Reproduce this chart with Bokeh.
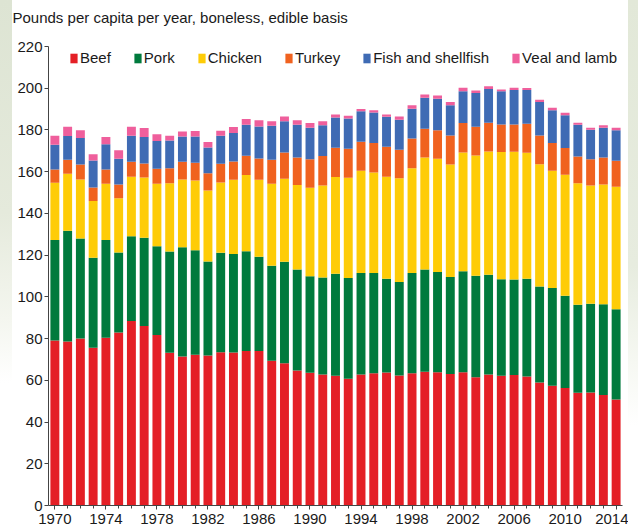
from bokeh.plotting import figure
from bokeh.models import ColumnDataSource, FixedTicker, Legend, LegendItem, Div, Title
from bokeh.layouts import row
from bokeh.embed import file_html
from bokeh.resources import INLINE

years = list(range(1970, 2015))
beef = [79.1, 78.6, 80.1, 75.6, 80.4, 82.9, 88.4, 86.0, 81.7, 73.2, 71.4, 72.2, 71.9, 73.5, 73.3,
        74.0, 74.0, 69.4, 68.2, 64.7, 63.6, 62.8, 62.2, 60.7, 62.8, 63.4, 63.8, 62.3, 63.4, 64.1,
        63.9, 63.0, 63.9, 61.5, 62.8, 62.2, 62.5, 61.8, 59.0, 57.4, 56.3, 54.0, 54.2, 53.0, 50.8]
pork = [48.1, 53.1, 47.9, 43.1, 46.8, 38.4, 40.7, 42.3, 42.6, 48.6, 52.4, 50.2, 45.1, 47.6, 47.3,
        47.9, 45.2, 45.5, 48.6, 48.4, 46.3, 46.5, 48.9, 48.3, 48.6, 48.0, 44.9, 44.8, 48.0, 49.0,
        48.0, 46.5, 48.4, 48.6, 47.8, 46.3, 45.8, 46.9, 46.0, 46.8, 44.2, 42.2, 42.5, 43.5, 43.3]
chicken = [27.5, 27.3, 28.3, 27.2, 27.0, 26.0, 28.5, 28.9, 29.9, 32.6, 32.5, 33.4, 34.0, 33.7, 35.5,
           36.5, 36.9, 39.3, 39.8, 40.5, 42.4, 44.1, 46.3, 48.1, 49.0, 48.2, 48.9, 49.8, 50.2, 53.7,
           54.3, 54.0, 56.9, 57.7, 59.1, 60.9, 61.2, 60.4, 58.6, 56.2, 58.0, 58.3, 56.7, 57.4, 58.7]
turkey = [6.4, 6.7, 7.2, 6.5, 6.9, 6.6, 7.2, 6.7, 7.2, 7.3, 8.5, 8.5, 8.2, 9.0, 8.8,
          9.2, 10.2, 11.5, 12.6, 13.2, 13.7, 14.1, 14.1, 13.9, 13.9, 14.1, 14.3, 13.6, 14.3, 13.8,
          13.6, 13.9, 14.1, 13.7, 13.7, 13.2, 13.1, 13.9, 13.8, 13.3, 12.8, 12.8, 12.5, 12.9, 12.4]
fish = [11.8, 11.4, 12.6, 13.0, 12.1, 12.3, 12.4, 12.7, 13.3, 13.3, 12.1, 12.6, 12.4, 13.4, 13.6,
        14.9, 15.4, 16.3, 15.0, 15.7, 15.0, 14.7, 14.5, 14.5, 14.7, 14.7, 14.4, 14.4, 14.3, 14.8,
        15.2, 14.5, 15.3, 16.2, 16.2, 15.9, 16.5, 16.1, 16.0, 15.8, 15.8, 15.2, 14.2, 14.2, 14.6]
veal = [4.3, 4.4, 3.7, 3.0, 3.4, 4.1, 4.3, 4.3, 3.2, 2.2, 2.4, 2.6, 2.6, 2.4, 2.9,
        2.7, 2.9, 2.2, 2.3, 2.1, 2.3, 2.0, 1.4, 1.3, 1.0, 1.0, 1.1, 1.6, 1.7, 1.6,
        1.5, 1.5, 1.6, 1.2, 1.4, 0.9, 1.1, 1.0, 1.1, 1.1, 1.1, 0.9, 0.9, 1.2, 1.2]

series_keys = ["beef", "pork", "chicken", "turkey", "fish", "veal"]
series_labels = ["Beef", "Pork", "Chicken", "Turkey", "Fish and shellfish", "Veal and lamb"]
colors = ["#e41f26", "#007a3d", "#fecc07", "#f0621f", "#3f6bb4", "#ef5f9c"]
y_ticks = list(range(0, 221, 20))
x_label_years = list(range(1970, 2015, 4))
title_text = "Pounds per capita per year, boneless, edible basis"

source = ColumnDataSource(dict(year=years, beef=beef, pork=pork, chicken=chicken,
                               turkey=turkey, fish=fish, veal=veal))

FONT = "Liberation Sans"

fig = figure(width=616, height=532, output_backend="svg", toolbar_location=None,
             title=None,
             x_range=(1969.5, 2014.5), y_range=(0, 220),
             min_border_left=36, min_border_right=6, min_border_top=46, min_border_bottom=27)

renderers = fig.vbar_stack(series_keys, x="year", width=0.7, color=colors, source=source,
                           line_width=0)

# spacer (closest to the frame), then the visible title above it
spacer = Title(text=" ", text_font_size="1px", standoff=16)
fig.add_layout(spacer, "above")
main_title = Title(text=title_text, text_font=FONT, text_font_size="15px",
                   text_font_style="normal", text_color="#1a1a1a", align="left",
                   offset=-36, standoff=4)
fig.add_layout(main_title, "above")

fig.outline_line_color = None
fig.background_fill_color = "white"
fig.border_fill_color = "white"
fig.xgrid.visible = False
fig.ygrid.visible = False

fig.yaxis.ticker = FixedTicker(ticks=y_ticks)
fig.xaxis.ticker = FixedTicker(ticks=x_label_years, minor_ticks=years)
for ax in (fig.xaxis, fig.yaxis):
    ax.axis_line_color = "#444444"
    ax.major_tick_line_color = "#444444"
    ax.minor_tick_line_color = "#444444"
    ax.major_tick_out = 4
    ax.major_tick_in = 0
    ax.major_label_text_font = FONT
    ax.major_label_text_font_size = "15px"
    ax.major_label_text_color = "#1a1a1a"
    ax.major_label_standoff = 2
fig.xaxis.major_label_standoff = 4
fig.xaxis.minor_tick_out = 3
fig.xaxis.minor_tick_in = 0
fig.yaxis.minor_tick_line_color = None

items = [LegendItem(label=lab, renderers=[r]) for lab, r in zip(series_labels, renderers)]
legend = Legend(items=items, orientation="horizontal", location=(21, 439),
                padding=0, margin=0, spacing=22, glyph_width=9, glyph_height=12,
                label_standoff=2, label_text_font=FONT, label_text_font_size="15px",
                label_text_color="#1a1a1a", border_line_color=None,
                background_fill_alpha=0)
fig.add_layout(legend, "center")

left_strip = Div(text="", width=12, height=532, margin=0,
                 styles={"background": "linear-gradient(to bottom, #dde4d3 0%, #e5eadc 40%, #f4f6ef 60%, #ffffff 72%)"})
right_strip = Div(text="", width=10, height=532, margin=0,
                  styles={"background": "linear-gradient(to bottom, #e2e8d8 0%, #e7ecdf 50%, #f6f8f2 68%, #ffffff 80%)"})

p = row(left_strip, fig, right_strip, spacing=0)

open("out.html", "w").write(file_html(p, INLINE))
